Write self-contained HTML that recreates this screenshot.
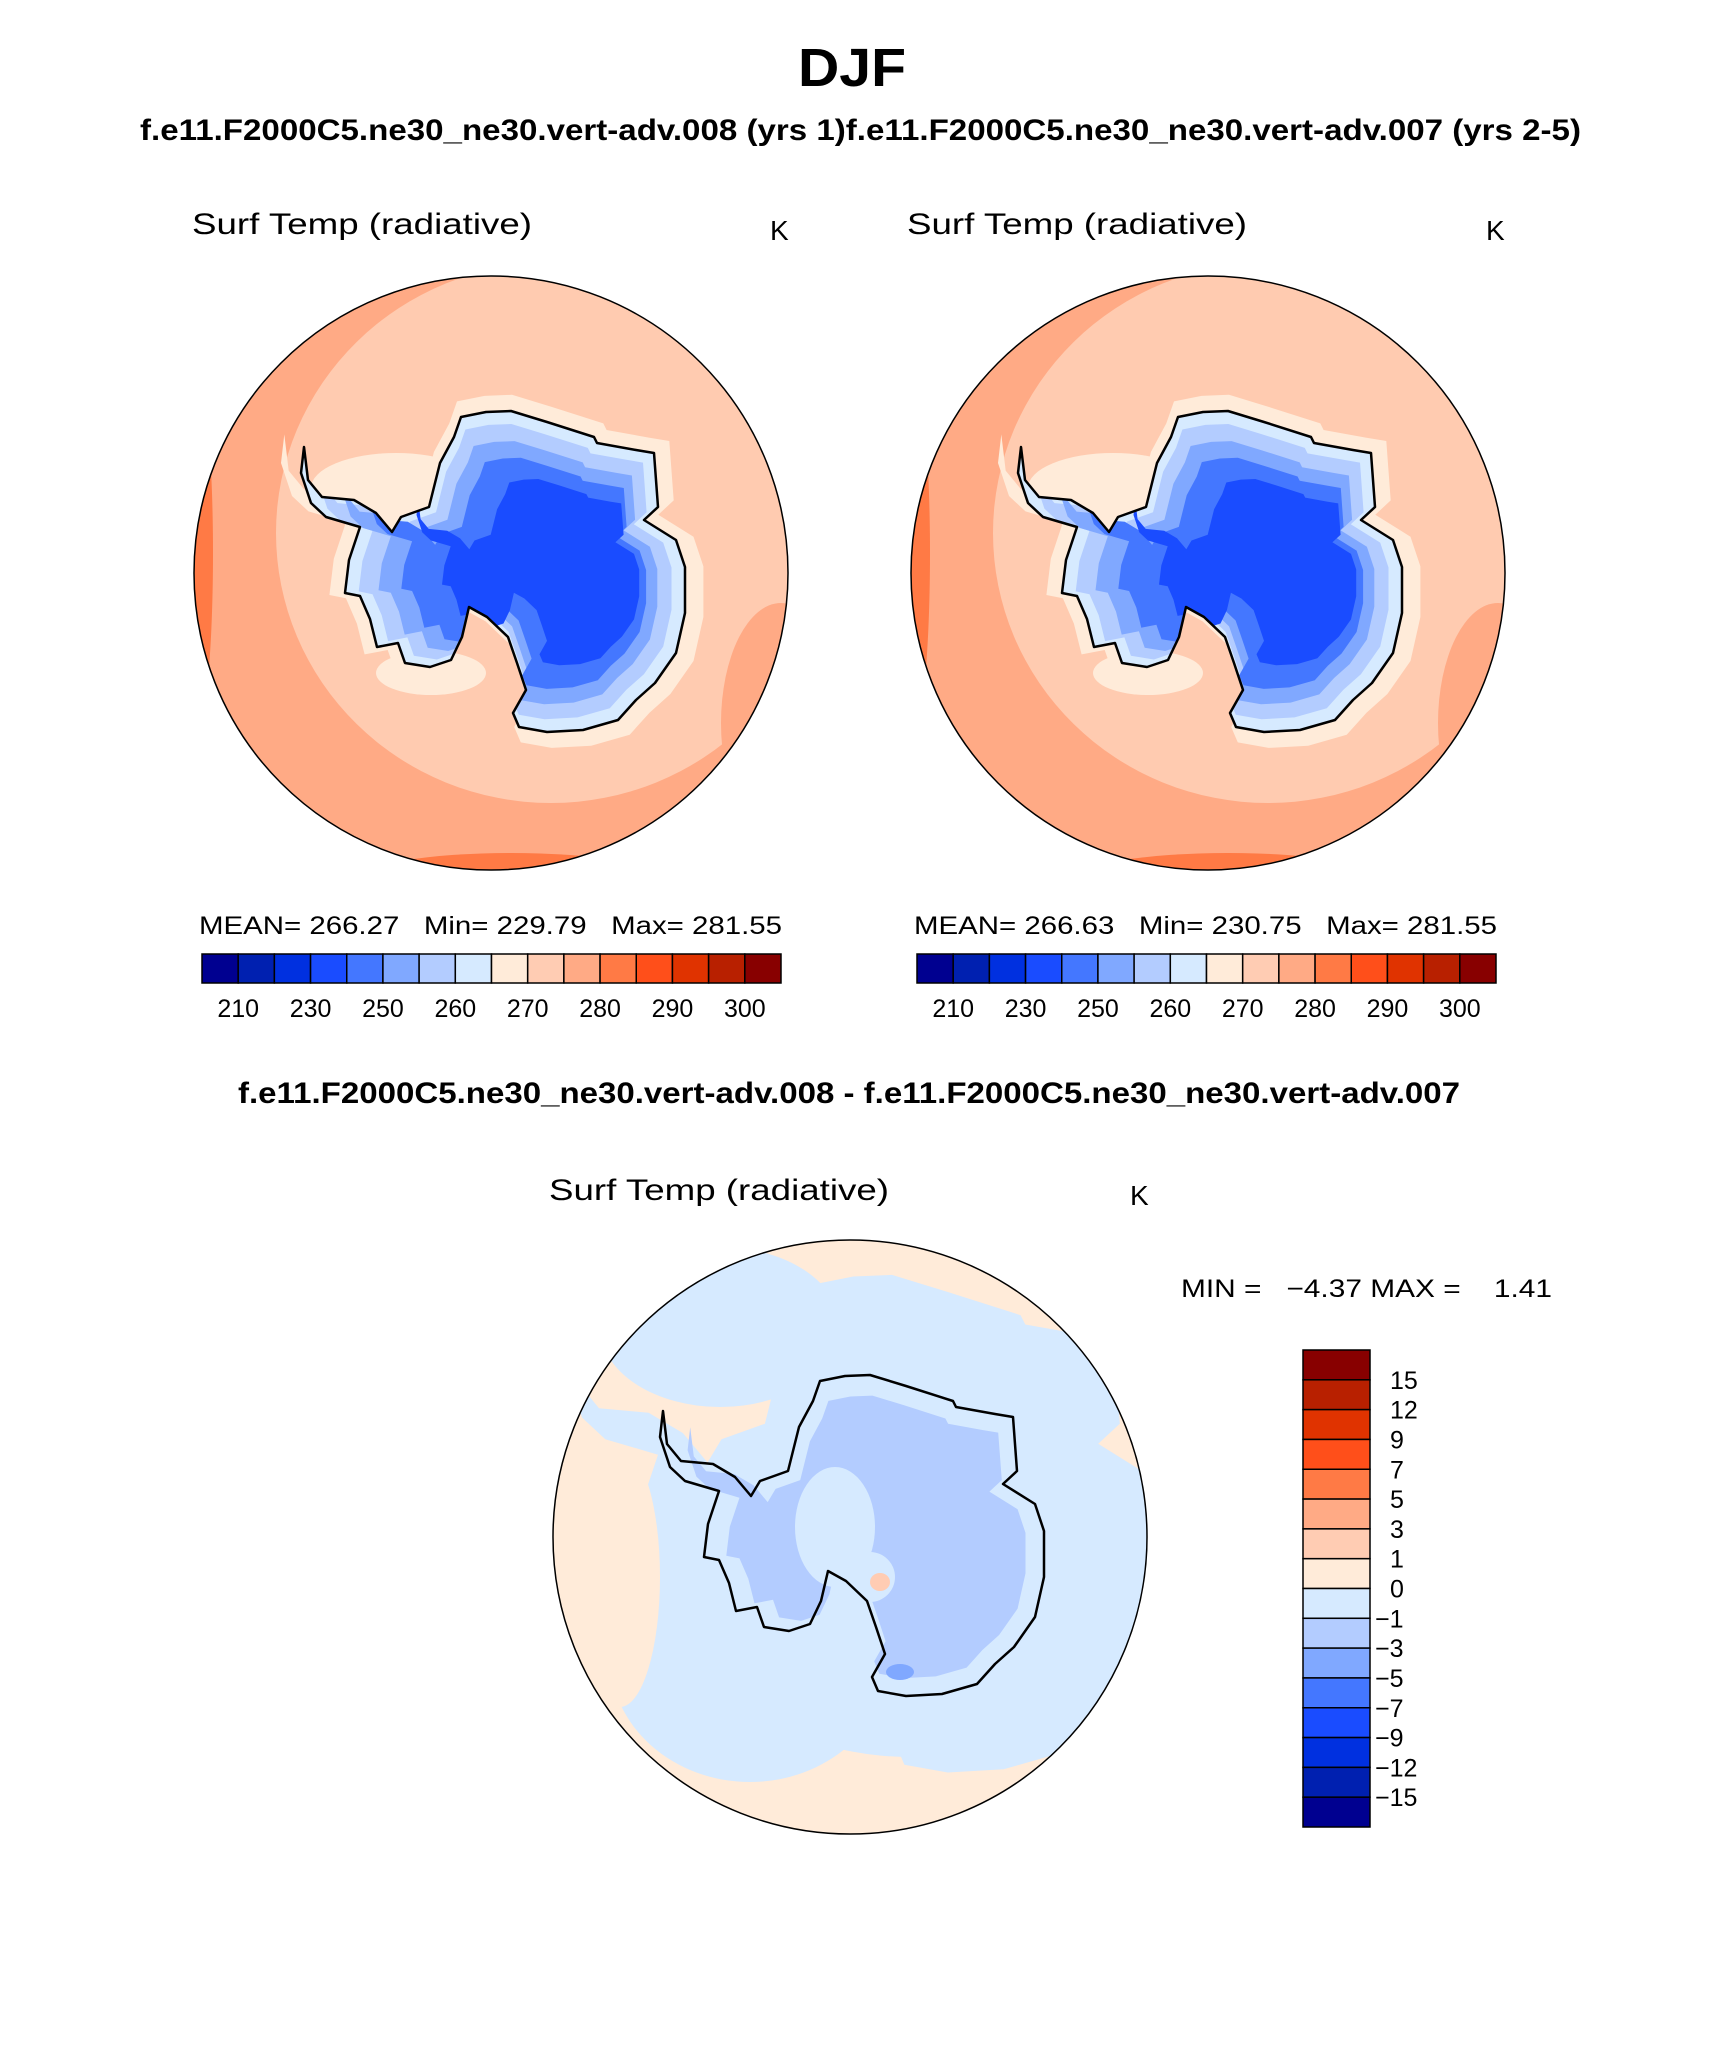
<!DOCTYPE html>
<html><head><meta charset="utf-8"><title>DJF Surf Temp</title>
<style>html,body{margin:0;padding:0;background:#fff}svg{display:block}</style></head>
<body>
<svg id="fig" width="1710" height="2061" viewBox="0 0 1710 2061" xmlns="http://www.w3.org/2000/svg" font-family="Liberation Sans, sans-serif">
<text x="852" y="86" font-size="54" font-weight="bold" text-anchor="middle" textLength="108" lengthAdjust="spacingAndGlyphs">DJF</text>
<text x="140" y="140" font-size="30" font-weight="bold" textLength="1441" lengthAdjust="spacingAndGlyphs">f.e11.F2000C5.ne30_ne30.vert-adv.008 (yrs 1)f.e11.F2000C5.ne30_ne30.vert-adv.007 (yrs 2-5)</text>
<text x="238" y="1103" font-size="30" font-weight="bold" textLength="1222" lengthAdjust="spacingAndGlyphs">f.e11.F2000C5.ne30_ne30.vert-adv.008 - f.e11.F2000C5.ne30_ne30.vert-adv.007</text>

<text x="192" y="234" font-size="30" textLength="340" lengthAdjust="spacingAndGlyphs">Surf Temp (radiative)</text>
<text x="770" y="240" font-size="28">K</text>
<text x="907" y="234" font-size="30" textLength="340" lengthAdjust="spacingAndGlyphs">Surf Temp (radiative)</text>
<text x="1486" y="240" font-size="28">K</text>
<text x="549" y="1200" font-size="30" textLength="340" lengthAdjust="spacingAndGlyphs">Surf Temp (radiative)</text>
<text x="1130" y="1205" font-size="28">K</text>

<text x="199" y="934" font-size="25" textLength="583" lengthAdjust="spacingAndGlyphs" xml:space="preserve">MEAN= 266.27   Min= 229.79   Max= 281.55</text>
<text x="914" y="934" font-size="25" textLength="583" lengthAdjust="spacingAndGlyphs" xml:space="preserve">MEAN= 266.63   Min= 230.75   Max= 281.55</text>
<text x="1181" y="1297" font-size="25" textLength="371" lengthAdjust="spacingAndGlyphs" xml:space="preserve">MIN =   −4.37 MAX =    1.41</text>

<g id="maps"></g>
<g id="bars"></g>
</svg>
<script>
// colour bar data
const absColors = ["#000090","#0020b0","#0030e0","#1a4cff","#4477ff","#80a8ff","#b3ccff","#d6eaff","#ffebd9","#ffccb3","#ffaa85","#ff7a45","#ff4f1a","#e03300","#b82000","#880000"];
const absTickLabels = ["210","230","250","260","270","280","290","300"];
const absTickIdx = [1,3,5,7,9,11,13,15];
const diffTickLabels = ["15","12","9","7","5","3","1","0","−1","−3","−5","−7","−9","−12","−15"];

const NS="http://www.w3.org/2000/svg";
function mk(tag, attrs, parent){const e=document.createElementNS(NS,tag);for(const k in attrs)e.setAttribute(k,attrs[k]);parent.appendChild(e);return e;}

const bars=document.getElementById('bars');
function hbar(x0,name){
  const g=mk('g',{},bars);
  
  
  const w=(781-202)/absColors.length;
  absColors.forEach((c,i)=>{
    const r=mk('rect',{x:x0+i*w,y:954,width:w,height:29,fill:c,stroke:'#000','stroke-width':1.5},g);
    
    
  });
  absTickLabels.forEach((t,i)=>{
    const tx=mk('text',{x:x0+absTickIdx[i]*w,y:1017,'font-size':25,'text-anchor':'middle'},g);
    tx.textContent=t;
    
    
  });
}
hbar(202,'panel1-colorbar');
hbar(917,'panel2-colorbar');
(function(){
  const g=mk('g',{},bars);
  
  
  const h=(1827-1350)/absColors.length;
  absColors.slice().reverse().forEach((c,i)=>{
    const r=mk('rect',{x:1303,y:1350+i*h,width:67,height:h,fill:c,stroke:'#000','stroke-width':1.5},g);
    
    
  });
  diffTickLabels.forEach((t,i)=>{
    const tx=mk('text',{x:t.startsWith('−')?1375:1390,y:1350+(i+1)*h+9,'font-size':25},g);
    tx.textContent=t;
    
    
  });
})();

// map geometry (relative to circle centre)
const coast=[[-187,-126],[-183,-93],[-169,-76],[-137,-73],[-115,-60],[-99,-41],[-90,-56],[-62,-66],[-51,-110],[-37,-136],[-30,-156],[-5,-161],[20,-162],[56,-151],[103,-136],[106,-130],[145,-123],[163,-120],[167,-66],[153,-53],[185,-33],[194,-6],[194,40],[185,80],[164,110],[145,127],[127,147],[92,157],[56,159],[28,154],[22,140],[35,117],[26,90],[17,64],[-4,44],[-22,34],[-29,64],[-40,87],[-61,94],[-86,90],[-93,70],[-114,74],[-121,46],[-131,23],[-146,20],[-142,-13],[-131,-46],[-165,-56],[-180,-70],[-190,-100]];
function poly(pts,s,ox,oy,cx,cy){return 'M'+pts.map(p=>[(cx+ox+(p[0]-ox)*s).toFixed(1),(cy+oy+(p[1]-oy)*s).toFixed(1)].join(',')).join('L')+'Z';}
const maps=document.getElementById('maps');
function mapPanel(cx,cy,id,kind){
  const R=297;
  const g=mk('g',{},maps);
  
  
  const cp=mk('clipPath',{id:id+'-clip'},g);mk('circle',{cx,cy,r:R},cp);
  const lp=mk('clipPath',{id:id+'-land'},g);mk('path',{d:poly(coast,1,0,0,cx,cy)},lp);
  const f=mk('g',{'clip-path':`url(#${id}-clip)`},g);
  if(kind==='abs'){
    mk('rect',{x:cx-R,y:cy-R,width:2*R,height:2*R,fill:'#ffaa85'},f);
    mk('ellipse',{cx:cx-300,cy:cy-20,rx:22,ry:200,fill:'#ff7a45'},f);
    mk('ellipse',{cx:cx+20,cy:cy+305,rx:150,ry:25,fill:'#ff7a45'},f);
    mk('ellipse',{cx:cx+60,cy:cy-40,rx:275,ry:270,fill:'#ffcbb0'},f);
    mk('ellipse',{cx:cx+300,cy:cy-220,rx:40,ry:80,fill:'#ffaa85'},f);
    mk('ellipse',{cx:cx+290,cy:cy+150,rx:60,ry:120,fill:'#ffaa85'},f);
    mk('ellipse',{cx:cx-95,cy:cy-85,rx:85,ry:35,fill:'#ffebd9'},f);
    mk('ellipse',{cx:cx-60,cy:cy+100,rx:55,ry:22,fill:'#ffebd9'},f);
    mk('path',{d:poly(coast,1.1,10,0,cx,cy),fill:'#ffebd9'},f);
    const land=mk('g',{'clip-path':`url(#${id}-land)`},f);
    mk('path',{d:poly(coast,1.0,10,0,cx,cy),fill:'#d6eaff'},land);
    mk('rect',{x:cx-R,y:cy-R,width:2*R,height:2*R,fill:'#d6eaff'},land);
    mk('path',{d:poly(coast,0.92,25,0,cx,cy),fill:'#b3ccff'},land);
    mk('path',{d:poly(coast,0.82,40,5,cx,cy),fill:'#80a8ff'},land);
    mk('path',{d:poly(coast,0.72,55,5,cx,cy),fill:'#4477ff'},land);
    mk('path',{d:poly(coast,0.58,85,0,cx,cy),fill:'#1a4cff'},land);
  } else {
    mk('rect',{x:cx-R,y:cy-R,width:2*R,height:2*R,fill:'#ffebd9'},f);
    mk('path',{d:poly(coast,1.55,-20,20,cx,cy),fill:'#d6eaff'},f);
    mk('ellipse',{cx:cx-100,cy:cy+120,rx:140,ry:125,fill:'#d6eaff'},f);
    mk('ellipse',{cx:cx-130,cy:cy-210,rx:120,ry:80,fill:'#d6eaff'},f);
    mk('ellipse',{cx:cx+60,cy:cy+150,rx:150,ry:70,fill:'#d6eaff'},f);
    mk('ellipse',{cx:cx-230,cy:cy+40,rx:40,ry:130,fill:'#ffebd9'},f);
    mk('path',{d:poly(coast,0.88,40,10,cx,cy),fill:'#b3ccff'},f);
    mk('ellipse',{cx:cx-15,cy:cy-10,rx:40,ry:60,fill:'#d6eaff'},f);
    mk('ellipse',{cx:cx+20,cy:cy+40,rx:25,ry:25,fill:'#d6eaff'},f);
    mk('ellipse',{cx:cx+30,cy:cy+45,rx:10,ry:9,fill:'#ffccb3'},f);
    mk('ellipse',{cx:cx+50,cy:cy+135,rx:14,ry:8,fill:'#80a8ff'},f);
  }
  const c=mk('path',{d:poly(coast,1,0,0,cx,cy),fill:'none',stroke:'#000','stroke-width':2.5,'stroke-linejoin':'round'},g);
  
  
  mk('circle',{cx,cy,r:R,fill:'none',stroke:'#000','stroke-width':1.5},g);
}
mapPanel(491,573,'panel1-map','abs');
mapPanel(1208,573,'panel2-map','abs');
mapPanel(850,1537,'diff-map','diff');
</script>
</body></html>
